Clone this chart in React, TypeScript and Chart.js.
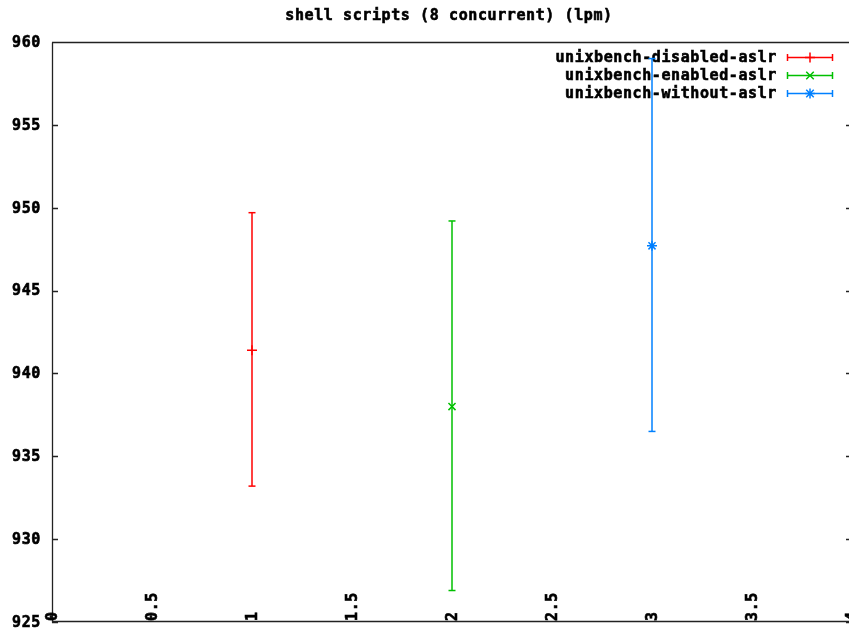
import React, { useEffect, useRef } from "react";
import { Chart, registerables } from "chart.js";

Chart.register(...registerables);

const chartTitle = "shell scripts (8 concurrent) (lpm)";
const seriesNames = ["unixbench-disabled-aslr", "unixbench-enabled-aslr", "unixbench-without-aslr"];
const seriesColors = ["#ff0000", "#00c000", "#0080ff"];
const seriesMarkers = ["cross", "crossRot", "star"];
const xPositions = [1, 2, 3];
const meanValues = [941.4, 938.0, 947.7];
const lowValues = [933.2, 926.9, 936.5];
const highValues = [949.7, 949.2, 959.0];
const xTickValues = [0, 0.5, 1, 1.5, 2, 2.5, 3, 3.5, 4];
const xTickLabels = ["0", "0.5", "1", "1.5", "2", "2.5", "3", "3.5", "4"];
const yTickValues = [925, 930, 935, 940, 945, 950, 955, 960];
const yTickLabels = ["925", "930", "935", "940", "945", "950", "955", "960"];

const FONT = "bold 15px 'DejaVu Sans Mono', monospace";
const SPACING = "0.6px";

function setFont(ctx: any) {
  ctx.font = FONT;
  ctx.letterSpacing = SPACING;
  ctx.fillStyle = "#000";
  ctx.strokeStyle = "#000";
  ctx.lineWidth = 0.6;
}

function boldText(ctx: any, s: string, x: number, y: number) {
  ctx.fillText(s, x, y);
  ctx.strokeText(s, x, y);
}

const gnuplotPlugin = {
  id: "gnuplotDecor",
  beforeDatasetsDraw(chart: any) {
    const ctx = chart.ctx;
    const area = chart.chartArea;
    const x = chart.scales.x;
    const y = chart.scales.y;
    ctx.save();
    // borders
    ctx.strokeStyle = "#222";
    ctx.lineWidth = 1.3;
    ctx.beginPath();
    ctx.moveTo(area.left + 0.5, area.top + 0.5);
    ctx.lineTo(area.left + 0.5, area.bottom + 0.5);
    ctx.moveTo(area.left, area.top + 0.5);
    ctx.lineTo(chart.width, area.top + 0.5);
    ctx.moveTo(area.left, area.bottom - 0.5);
    ctx.lineTo(chart.width, area.bottom - 0.5);
    const rightBorder = x.getPixelForValue(4);
    yTickValues.forEach((v) => {
      const py = Math.round(y.getPixelForValue(v)) + 0.5;
      ctx.moveTo(area.left, py);
      ctx.lineTo(area.left + 6, py);
      ctx.moveTo(rightBorder, py);
      ctx.lineTo(rightBorder - 6, py);
    });
    ctx.stroke();

    // title
    setFont(ctx);
    ctx.textAlign = "center";
    ctx.textBaseline = "middle";
    boldText(ctx, chartTitle, (area.left + rightBorder) / 2 - 3, 16);

    // y labels
    ctx.textAlign = "right";
    yTickValues.forEach((v, i) => {
      boldText(ctx, yTickLabels[i], 41, y.getPixelForValue(v) + 1);
    });

    // x labels rotated
    xTickValues.forEach((v, i) => {
      const px = x.getPixelForValue(v);
      ctx.save();
      ctx.translate(px + 1, area.bottom - 1);
      ctx.rotate(-Math.PI / 2);
      ctx.textAlign = "left";
      ctx.textBaseline = "middle";
      boldText(ctx, xTickLabels[i], 0, 0);
      ctx.restore();
    });

    // legend
    const rowY = [57, 75, 93];
    const textRight = 777;
    const sx0 = 787;
    const sx1 = 832;
    seriesNames.forEach((name, i) => {
      const ry = rowY[i];
      setFont(ctx);
      ctx.textAlign = "right";
      ctx.textBaseline = "middle";
      boldText(ctx, name, textRight, ry + 1);
      ctx.strokeStyle = seriesColors[i];
      ctx.lineWidth = 1.5;
      ctx.beginPath();
      ctx.moveTo(sx0, ry + 0.5);
      ctx.lineTo(sx1, ry + 0.5);
      ctx.moveTo(sx0 + 0.5, ry - 3);
      ctx.lineTo(sx0 + 0.5, ry + 4);
      ctx.moveTo(sx1 + 0.5, ry - 3);
      ctx.lineTo(sx1 + 0.5, ry + 4);
      ctx.stroke();
      const mx = (sx0 + sx1) / 2 + 0.5;
      const my = ry + 0.5;
      const r = 5;
      ctx.beginPath();
      const m = seriesMarkers[i];
      if (m === "cross" || m === "star") {
        ctx.moveTo(mx, my - r);
        ctx.lineTo(mx, my + r);
        ctx.moveTo(mx - r, my);
        ctx.lineTo(mx + r, my);
      }
      if (m === "crossRot" || m === "star") {
        const d = r * 0.75;
        ctx.moveTo(mx - d, my - d);
        ctx.lineTo(mx + d, my + d);
        ctx.moveTo(mx - d, my + d);
        ctx.lineTo(mx + d, my - d);
      }
      ctx.stroke();
    });
    ctx.restore();
  },
};

export default function App() {
  const ref = useRef<HTMLCanvasElement | null>(null);
  useEffect(() => {
    document.body.style.margin = "0";
    const datasets: any[] = [];
    seriesNames.forEach((name, i) => {
      datasets.push({
        type: "line",
        label: name + " range",
        data: [
          { x: xPositions[i], y: lowValues[i] },
          { x: xPositions[i], y: highValues[i] },
        ],
        borderColor: seriesColors[i],
        borderWidth: 1.5,
        showLine: true,
        pointStyle: "line",
        pointRadius: 3.5,
        pointBorderColor: seriesColors[i],
        pointBorderWidth: 1.5,
        fill: false,
      });
      datasets.push({
        type: "scatter",
        label: name,
        data: [{ x: xPositions[i], y: meanValues[i] }],
        pointStyle: seriesMarkers[i],
        pointRadius: 5,
        pointBorderColor: seriesColors[i],
        pointBackgroundColor: seriesColors[i],
        pointBorderWidth: 1.5,
        showLine: false,
      });
    });
    const chart = new Chart(ref.current as HTMLCanvasElement, {
      type: "scatter",
      data: { datasets },
      options: {
        animation: false,
        responsive: false,
        devicePixelRatio: 1,
        layout: { padding: { left: 52, top: 42, right: 0, bottom: 8 }, autoPadding: false },
        plugins: { legend: { display: false }, tooltip: { enabled: false }, title: { display: false } },
        scales: {
          x: { type: "linear", min: 0, max: (849 - 52) / 200, display: false },
          y: { type: "linear", min: 925, max: 960, display: false },
        },
      } as any,
      plugins: [gnuplotPlugin],
    });
    return () => chart.destroy();
  }, []);
  return (
    <div style={{ position: "absolute", left: 0, top: 0, width: 849, height: 630, background: "#fff" }}>
      <canvas ref={ref} width={849} height={630} style={{ width: 849, height: 630, display: "block" }} />
    </div>
  );
}
